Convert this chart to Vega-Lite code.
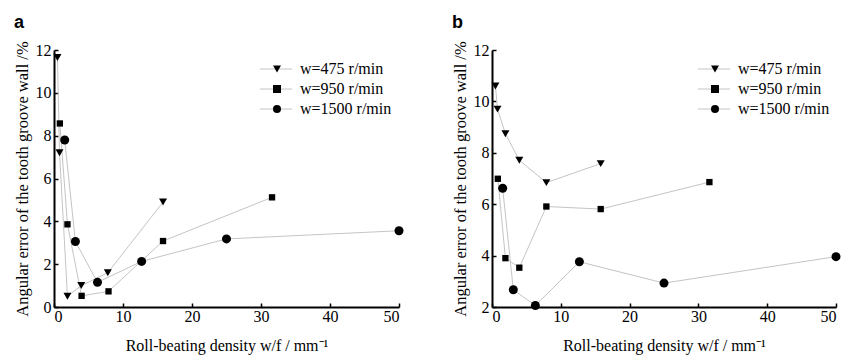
{
  "$schema": "https://vega.github.io/schema/vega-lite/v6.json",
  "padding": {"left": 13, "top": 13, "right": 5, "bottom": 5},
  "background": "white",
  "config": {
    "view": {"stroke": null},
    "font": "Liberation Serif, Times New Roman, serif",
    "axis": {
      "grid": false,
      "domainColor": "black",
      "domainWidth": 2,
      "tickColor": "black",
      "tickWidth": 1.5,
      "tickSize": -4,
      "labelFont": "Liberation Serif, Times New Roman, serif",
      "labelFontSize": 16,
      "labelColor": "black",
      "titleFont": "Liberation Serif, Times New Roman, serif",
      "titleFontWeight": "normal",
      "titleColor": "black"
    },
    "axisX": {"labelPadding": 5, "titleFontSize": 16, "titlePadding": 13},
    "axisY": {"labelPadding": 7, "titleFontSize": 16.5, "titlePadding": 5},
    "legend": {
      "labelFont": "Liberation Serif, Times New Roman, serif",
      "labelFontSize": 16,
      "labelColor": "black",
      "padding": 0,
      "rowPadding": 4,
      "title": null
    },
    "title": {"font": "Liberation Sans, Arial, sans-serif", "fontSize": 18, "fontWeight": "bold", "anchor": "start", "frame": "bounds", "color": "black"}
  },
  "datasets": {
    "pts": [
      {"panel": "a", "series": "w=475 r/min", "x": 0.5, "y": 11.65},
      {"panel": "a", "series": "w=475 r/min", "x": 0.8, "y": 7.2},
      {"panel": "a", "series": "w=475 r/min", "x": 1.95, "y": 0.5},
      {"panel": "a", "series": "w=475 r/min", "x": 3.95, "y": 1.0},
      {"panel": "a", "series": "w=475 r/min", "x": 7.8, "y": 1.6},
      {"panel": "a", "series": "w=475 r/min", "x": 15.8, "y": 4.9},
      {"panel": "a", "series": "w=950 r/min", "x": 0.85, "y": 8.57},
      {"panel": "a", "series": "w=950 r/min", "x": 1.95, "y": 3.86},
      {"panel": "a", "series": "w=950 r/min", "x": 4.0, "y": 0.52},
      {"panel": "a", "series": "w=950 r/min", "x": 7.9, "y": 0.73},
      {"panel": "a", "series": "w=950 r/min", "x": 15.8, "y": 3.08},
      {"panel": "a", "series": "w=950 r/min", "x": 31.6, "y": 5.12},
      {"panel": "a", "series": "w=1500 r/min", "x": 1.55, "y": 7.8},
      {"panel": "a", "series": "w=1500 r/min", "x": 3.1, "y": 3.06},
      {"panel": "a", "series": "w=1500 r/min", "x": 6.3, "y": 1.15},
      {"panel": "a", "series": "w=1500 r/min", "x": 12.7, "y": 2.13},
      {"panel": "a", "series": "w=1500 r/min", "x": 25.0, "y": 3.18},
      {"panel": "a", "series": "w=1500 r/min", "x": 50.0, "y": 3.56},
      {"panel": "b", "series": "w=475 r/min", "x": 0.5, "y": 10.6},
      {"panel": "b", "series": "w=475 r/min", "x": 0.8, "y": 9.7},
      {"panel": "b", "series": "w=475 r/min", "x": 1.95, "y": 8.74},
      {"panel": "b", "series": "w=475 r/min", "x": 3.97, "y": 7.71},
      {"panel": "b", "series": "w=475 r/min", "x": 7.9, "y": 6.84},
      {"panel": "b", "series": "w=475 r/min", "x": 15.8, "y": 7.58},
      {"panel": "b", "series": "w=950 r/min", "x": 0.85, "y": 6.99},
      {"panel": "b", "series": "w=950 r/min", "x": 1.95, "y": 3.9},
      {"panel": "b", "series": "w=950 r/min", "x": 3.97, "y": 3.53},
      {"panel": "b", "series": "w=950 r/min", "x": 7.9, "y": 5.91},
      {"panel": "b", "series": "w=950 r/min", "x": 15.8, "y": 5.81},
      {"panel": "b", "series": "w=950 r/min", "x": 31.6, "y": 6.86},
      {"panel": "b", "series": "w=1500 r/min", "x": 1.55, "y": 6.62},
      {"panel": "b", "series": "w=1500 r/min", "x": 3.1, "y": 2.67},
      {"panel": "b", "series": "w=1500 r/min", "x": 6.3, "y": 2.06},
      {"panel": "b", "series": "w=1500 r/min", "x": 12.7, "y": 3.76},
      {"panel": "b", "series": "w=1500 r/min", "x": 25.0, "y": 2.93},
      {"panel": "b", "series": "w=1500 r/min", "x": 50.0, "y": 3.96}
    ]
  },
  "resolve": {"scale": {"shape": "independent", "stroke": "independent"}, "legend": {"shape": "independent", "stroke": "independent"}},
  "spacing": 47,
  "hconcat": [
    {
      "title": {"text": "a", "offset": 9},
      "width": 345,
      "height": 257,
      "data": {"name": "pts"},
      "transform": [{"filter": "datum.panel === 'a'"}],
      "encoding": {
        "x": {"field": "x", "type": "quantitative", "scale": {"domain": [0, 50], "nice": false},
          "axis": {"values": [0, 10, 20, 30, 40, 50], "title": "Roll-beating density w/f / mm⁻¹"}},
        "y": {"field": "y", "type": "quantitative", "scale": {"domain": [0, 12], "nice": false, "zero": false},
          "axis": {"values": [0, 2, 4, 6, 8, 10, 12], "title": "Angular error of the tooth groove wall /%"}}
      },
      "layer": [
        {"mark": {"type": "line", "strokeWidth": 1},
         "encoding": {
           "stroke": {"field": "series", "type": "nominal",
             "scale": {"domain": ["w=1500 r/min", "w=475 r/min", "w=950 r/min"], "range": ["#c4c4c4", "#c4c4c4", "#c4c4c4"]},
             "legend": {"orient": "none", "legendX": 214, "legendY": 11, "symbolType": "M-3.6,0H3.6", "symbolSize": 81, "symbolStrokeWidth": 1, "labelExpr": "''", "labelOffset": 15}}
         }},
        {"mark": {"type": "point", "filled": true, "color": "black", "opacity": 1},
         "encoding": {
           "shape": {"field": "series", "type": "nominal",
             "scale": {"domain": ["w=475 r/min", "w=950 r/min", "w=1500 r/min"], "range": ["triangle-down", "square", "circle"]},
             "legend": {"orient": "none", "legendX": 215, "legendY": 11, "symbolSize": 64, "symbolStrokeWidth": 0, "symbolFillColor": "black", "labelOffset": 15}},
           "size": {"condition": [{"test": "datum.series === 'w=1500 r/min'", "value": 81}, {"test": "datum.series === 'w=950 r/min'", "value": 40}], "value": 64}
         }}
      ]
    },
    {
      "title": {"text": "b", "offset": 9},
      "width": 344,
      "height": 257,
      "data": {"name": "pts"},
      "transform": [{"filter": "datum.panel === 'b'"}],
      "encoding": {
        "x": {"field": "x", "type": "quantitative", "scale": {"domain": [0, 50], "nice": false},
          "axis": {"values": [0, 10, 20, 30, 40, 50], "title": "Roll-beating density w/f / mm⁻¹"}},
        "y": {"field": "y", "type": "quantitative", "scale": {"domain": [2, 12], "nice": false, "zero": false},
          "axis": {"values": [2, 4, 6, 8, 10, 12], "title": "Angular error of the tooth groove wall /%"}}
      },
      "layer": [
        {"mark": {"type": "line", "strokeWidth": 1},
         "encoding": {
           "stroke": {"field": "series", "type": "nominal",
             "scale": {"domain": ["w=1500 r/min", "w=475 r/min", "w=950 r/min"], "range": ["#c4c4c4", "#c4c4c4", "#c4c4c4"]},
             "legend": {"orient": "none", "legendX": 214, "legendY": 11, "symbolType": "M-3.6,0H3.6", "symbolSize": 81, "symbolStrokeWidth": 1, "labelExpr": "''", "labelOffset": 15}}
         }},
        {"mark": {"type": "point", "filled": true, "color": "black", "opacity": 1},
         "encoding": {
           "shape": {"field": "series", "type": "nominal",
             "scale": {"domain": ["w=475 r/min", "w=950 r/min", "w=1500 r/min"], "range": ["triangle-down", "square", "circle"]},
             "legend": {"orient": "none", "legendX": 215, "legendY": 11, "symbolSize": 64, "symbolStrokeWidth": 0, "symbolFillColor": "black", "labelOffset": 15}},
           "size": {"condition": [{"test": "datum.series === 'w=1500 r/min'", "value": 81}, {"test": "datum.series === 'w=950 r/min'", "value": 40}], "value": 64}
         }}
      ]
    }
  ]
}
